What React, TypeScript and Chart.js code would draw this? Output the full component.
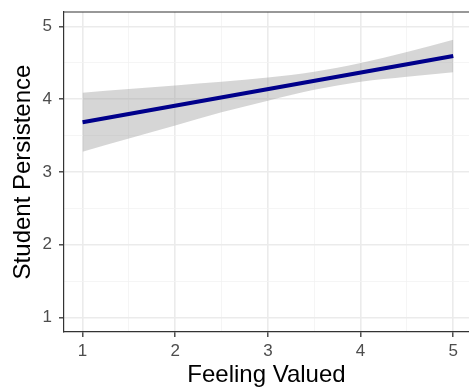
import React, { useEffect, useRef } from "react";
import { Chart, registerables } from "chart.js";

Chart.register(...registerables);

// ---- data ----
const bandX = [1, 1.5, 2, 2.5, 3, 3.5, 4, 4.5, 5];
const bandUpper = [4.09, 4.14, 4.19, 4.24, 4.3, 4.38, 4.5, 4.65, 4.82];
const bandLower = [3.28, 3.46, 3.64, 3.82, 3.98, 4.13, 4.24, 4.31, 4.37];
const fitX = [1, 5];
const fitY = [3.685, 4.595];
const xTicks = [1, 2, 3, 4, 5];
const yTicks = [1, 2, 3, 4, 5];
const xMinor = [1.5, 2.5, 3.5, 4.5];
const yMinor = [1.5, 2.5, 3.5, 4.5];
const xTitle = "Feeling Valued";
const yTitle = "Student Persistence";

const FONT = "'Liberation Sans', Arial, Helvetica, sans-serif";

const isMajor = (v: number) => Number.isInteger(v);

const topBorder = {
  id: "topBorder",
  afterDatasetsDraw(chart: any) {
    const { ctx, chartArea } = chart;
    ctx.save();
    ctx.strokeStyle = "#333333";
    ctx.lineWidth = 1.2;
    ctx.beginPath();
    ctx.moveTo(chartArea.left, chartArea.top);
    ctx.lineTo(chartArea.right + 2, chartArea.top);
    ctx.stroke();
    ctx.restore();
  },
};

export default function App() {
  const ref = useRef<HTMLCanvasElement | null>(null);

  useEffect(() => {
    if (!ref.current) return;
    const gridOpts = {
      drawOnChartArea: true,
      drawTicks: true,
      tickLength: 5,
      color: (c: any) => (isMajor(c.tick?.value) ? "#EBEBEB" : "#F3F3F3"),
      lineWidth: (c: any) => (isMajor(c.tick?.value) ? 1.6 : 0.8),
      tickColor: (c: any) => (isMajor(c.tick?.value) ? "#333333" : "rgba(0,0,0,0)"),
      tickWidth: 1.3,
    };
    const chart = new Chart(ref.current, {
      type: "line",
      data: {
        datasets: [
          {
            label: "fit",
            data: fitX.map((x, i) => ({ x, y: fitY[i] })),
            borderColor: "#00008B",
            borderWidth: 4,
            pointRadius: 0,
            fill: false,
            tension: 0,
          },
          {
            label: "upper",
            data: bandX.map((x, i) => ({ x, y: bandUpper[i] })),
            borderWidth: 0,
            borderColor: "rgba(0,0,0,0)",
            backgroundColor: "rgba(153,153,153,0.4)",
            pointRadius: 0,
            fill: "+1",
            cubicInterpolationMode: "monotone",
          },
          {
            label: "lower",
            data: bandX.map((x, i) => ({ x, y: bandLower[i] })),
            borderWidth: 0,
            borderColor: "rgba(0,0,0,0)",
            pointRadius: 0,
            fill: false,
            cubicInterpolationMode: "monotone",
          },
        ],
      },
      options: {
        responsive: false,
        devicePixelRatio: 1,
        animation: false,
        layout: { padding: { top: 12, left: 0, right: 0, bottom: 0 } },
        plugins: { legend: { display: false }, tooltip: { enabled: false } },
        scales: {
          x: {
            type: "linear",
            position: "bottom",
            min: 0.8,
            max: 5.17,
            afterBuildTicks: (s: any) => {
              s.ticks = [...xTicks, ...xMinor].sort((a, b) => a - b).map((v) => ({ value: v }));
            },
            afterFit: (s: any) => {
              s.height = 58;
              s.paddingLeft = 0;
              s.paddingRight = 0;
            },
            grid: gridOpts as any,
            border: { display: true, color: "#333333", width: 1.2 },
            ticks: {
              autoSkip: false,
              maxRotation: 0,
              padding: 4,
              color: "#4D4D4D",
              font: { family: FONT, size: 17 },
              callback: (v: any) => (isMajor(Number(v)) ? String(v) : ""),
            },
            title: {
              display: true,
              text: xTitle,
              color: "#000000",
              font: { family: FONT, size: 24 },
              padding: { top: 0, bottom: 0 },
            },
          },
          y: {
            type: "linear",
            min: 0.8,
            max: 5.2,
            afterBuildTicks: (s: any) => {
              s.ticks = [...yTicks, ...yMinor].sort((a, b) => a - b).map((v) => ({ value: v }));
            },
            afterFit: (s: any) => {
              s.width = 64;
              s.paddingTop = 0;
              s.paddingBottom = 0;
            },
            grid: gridOpts as any,
            border: { display: true, color: "#333333", width: 1.2 },
            ticks: {
              autoSkip: false,
              padding: 7,
              color: "#4D4D4D",
              font: { family: FONT, size: 17 },
              callback: (v: any) => (isMajor(Number(v)) ? String(v) : ""),
            },
            title: {
              display: true,
              text: yTitle,
              color: "#000000",
              font: { family: FONT, size: 24 },
              padding: { top: 9, bottom: 0 },
            },
          },
        },
      },
      plugins: [topBorder],
    });
    return () => chart.destroy();
  }, []);

  return (
    <div style={{ position: "absolute", left: 0, top: 0, width: 469, height: 390, background: "#ffffff", overflow: "hidden" }}>
      <canvas ref={ref} width={469} height={390} style={{ display: "block" }} />
    </div>
  );
}
